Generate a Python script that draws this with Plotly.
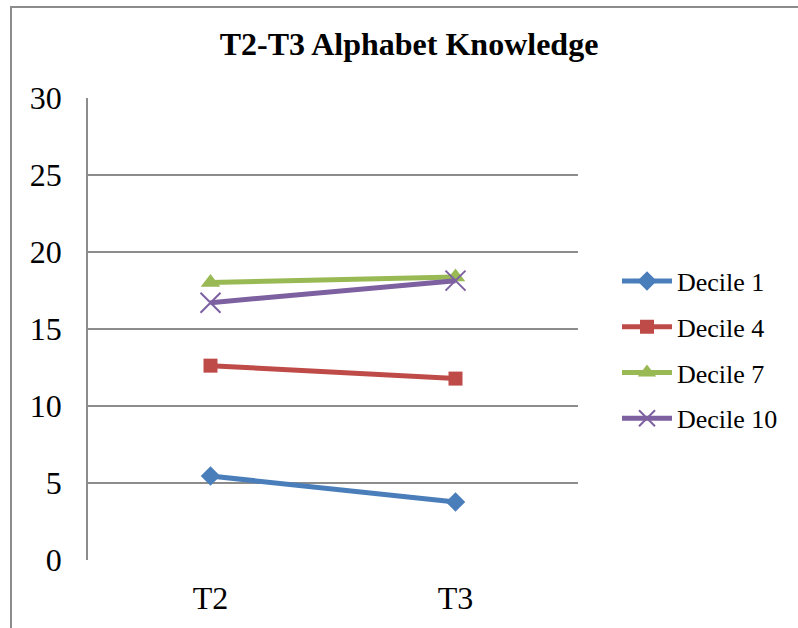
import plotly.graph_objects as go

categories = ["T2", "T3"]
series_names = ["Decile 1", "Decile 4", "Decile 7", "Decile 10"]
decile_1 = [5.45, 3.77]
decile_4 = [12.62, 11.78]
decile_7 = [18.02, 18.38]
decile_10 = [16.71, 18.14]
y_ticks = [0, 5, 10, 15, 20, 25, 30]

values = [decile_1, decile_4, decile_7, decile_10]
colors = ["#4A7EBB", "#BE4B48", "#98B954", "#7D60A0"]
symbols = ["diamond", "square", "triangle-up", "x-thin"]
sizes = [15, 14, 17, 20]

fig = go.Figure()
for i, (name, vals) in enumerate(zip(series_names, values)):
    marker = dict(symbol=symbols[i], size=sizes[i], color=colors[i])
    if symbols[i] == "x-thin":
        marker["line"] = dict(color=colors[i], width=2)
    fig.add_trace(go.Scatter(
        x=categories, y=vals, name=name, mode="lines+markers",
        line=dict(color=colors[i], width=5),
        marker=marker, legendgroup=name,
    ))

W, H = 798, 628
L, R, T, B = 88, 578, 98, 560
fig.update_layout(
    width=W, height=H,
    margin=dict(l=L, r=W - R, t=T, b=H - B, pad=0),
    paper_bgcolor="white", plot_bgcolor="white",
    font=dict(family="Liberation Serif, Times New Roman, serif", color="black"),
    title=dict(text="<b>T2-T3 Alphabet Knowledge</b>", font=dict(size=32),
               x=409 / W, xref="container", xanchor="center",
               y=1 - 44 / H, yref="container", yanchor="middle"),
    xaxis=dict(showgrid=False, showline=False, zeroline=False,
               ticks="outside", ticklen=10, tickcolor="rgba(0,0,0,0)",
               tickfont=dict(size=32), range=[-0.5, 1.5]),
    yaxis=dict(range=[0, 30], tickvals=y_ticks, showgrid=True,
               gridcolor="#8C8C8C", gridwidth=1.5, zeroline=False,
               showline=True, linecolor="#8C8C8C", linewidth=1.5,
               ticks="outside", ticklen=18, tickcolor="rgba(0,0,0,0)",
               tickfont=dict(size=32)),
    legend=dict(x=(617 - L) / (R - L), xanchor="left",
                y=(B - 350) / (B - T), yanchor="middle",
                font=dict(size=26), traceorder="grouped", tracegroupgap=9,
                itemwidth=50, bgcolor="rgba(0,0,0,0)"),
    showlegend=True,
)
# outer chart border
fig.add_shape(type="rect", xref="paper", yref="paper",
              x0=(11 - L) / (R - L), x1=(830 - L) / (R - L),
              y0=(B - 650) / (B - T), y1=(B - 7) / (B - T),
              line=dict(color="#8C8C8C", width=2), layer="below")

fig.write_html("out.html", config={"displayModeBar": False},
               post_script="document.body.style.margin='0';document.body.style.padding='0';")
